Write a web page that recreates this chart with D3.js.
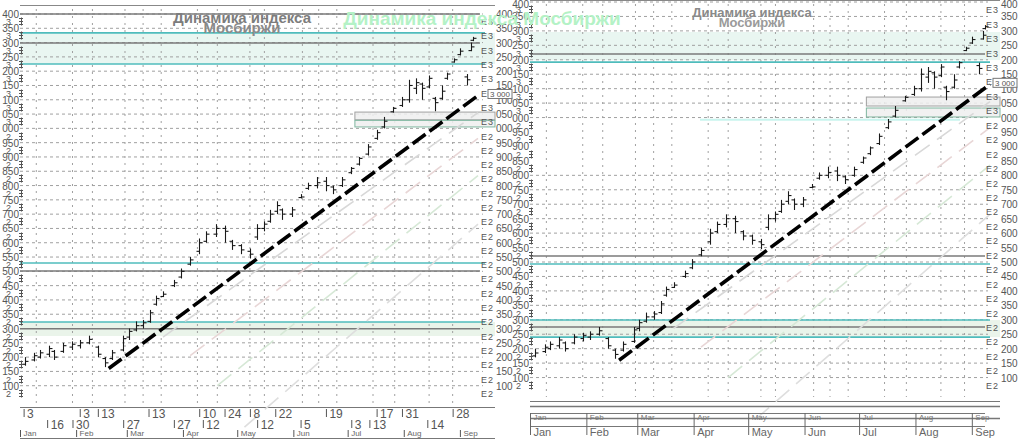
<!DOCTYPE html>
<html>
<head>
<meta charset="utf-8">
<script src="https://cdn.jsdelivr.net/npm/d3@7"></script>
<style>
  body { margin: 0; background: #fff; overflow: hidden; }
  svg { display: block; font-family: "Liberation Sans", Arial, sans-serif; }
</style>
</head>
<body>
<svg id="chart" width="1024" height="441"></svg>
<script>
// IMOEX, 2023 — bars (date, open, high, low, close)
const dates = ['2023-01-04','2023-01-09','2023-01-12','2023-01-17','2023-01-20','2023-01-25','2023-01-30','2023-02-03','2023-02-08','2023-02-13',
  '2023-02-17','2023-02-21','2023-02-27','2023-03-02','2023-03-06','2023-03-10','2023-03-14','2023-03-17','2023-03-21','2023-03-27',
  '2023-03-31','2023-04-05','2023-04-10','2023-04-14','2023-04-19','2023-04-24','2023-04-28','2023-05-03','2023-05-08','2023-05-12',
  '2023-05-16','2023-05-19','2023-05-23','2023-05-26','2023-05-31','2023-06-05','2023-06-09','2023-06-14','2023-06-19','2023-06-23',
  '2023-06-28','2023-07-03','2023-07-07','2023-07-12','2023-07-17','2023-07-21','2023-07-26','2023-07-31','2023-08-04','2023-08-08',
  '2023-08-11','2023-08-15','2023-08-18','2023-08-22','2023-08-25','2023-08-29','2023-09-01','2023-09-05','2023-09-07','2023-09-08'];
const opens = [2175,2190,2200,2210,2220,2220,2235,2240,2250,2235, 2195,2195,2225,2270,2295,2310,2325,2385,2412,2450,
  2480,2525,2570,2605,2630,2650,2605,2590,2570,2620, 2650,2675,2710,2715,2700,2758,2790,2800,2815,2795,
  2800,2845,2875,2910,2965,3005,3058,3080,3100,3140, 3155,3145,3105,3105,3175,3232,3258,3180,3272,3308];
const highs = [2200,2215,2225,2240,2225,2250,2255,2260,2275,2240, 2200,2225,2275,2300,2325,2330,2365,2415,2430,2470,
  2510,2550,2615,2640,2665,2660,2610,2595,2580,2665, 2675,2715,2745,2720,2725,2770,2810,2830,2830,2800,
  2830,2865,2900,2945,2995,3040,3075,3110,3170,3175, 3160,3185,3110,3150,3195,3245,3280,3190,3300,3320];
const lows = [2170,2185,2195,2200,2190,2215,2225,2230,2245,2200, 2165,2190,2220,2260,2290,2300,2320,2380,2410,2445,
  2475,2520,2560,2600,2620,2600,2575,2560,2545,2610, 2640,2670,2700,2680,2690,2755,2785,2790,2780,2770,
  2795,2840,2870,2905,2960,3000,3055,3075,3090,3120, 3100,3140,3060,3100,3170,3230,3255,3150,3270,3305];
const closes = [2185,2205,2215,2230,2200,2240,2245,2250,2262,2210, 2180,2215,2265,2290,2310,2320,2355,2405,2420,2460,
  2500,2540,2600,2630,2650,2640,2590,2575,2560,2650, 2665,2700,2730,2700,2715,2760,2800,2810,2800,2785,
  2820,2860,2895,2935,2985,3025,3070,3100,3150,3160, 3140,3175,3090,3130,3190,3240,3270,3170,3285,3315];

// trend line (two anchor points) and faint parallel channels below it
const trendDates = ['2023-02-19', '2023-09-11'];
const trendValues = [2160, 3115];
const channelOffsets = [-60, -150, -280, -450];
const channelColors = ['#d8d8d8', '#e8d6d6', '#d6e8d6', '#dedede'];

// support / resistance levels
const bandsLeft = [[3225, 3334], [2274, 2323]];
const cyanLeft = [3334, 3225, 2529, 2323];
const grayLeft = [3400, 3299, 2501, 2299];
const boxesLeft = [[3030, 3057], [3005, 3028]];
const bandsRight = [[3199, 3296], [2240, 2299]];
const cyanRight = [3192, 2493, 2299, 2240];
const grayRight = [3220, 2521, 2275];
const boxesRight = [[3040, 3071], [3002, 3033]];
const faintRight = [2992];

// axis ticks
const yTicks = d3.range(2100, 3401, 50);
const gridSkipRight = [2850, 2900, 2950];
const gridDates = ['2023-01-10','2023-01-30','2023-02-10','2023-02-28','2023-03-10','2023-03-20','2023-04-09','2023-04-20',
  '2023-05-08','2023-05-16','2023-06-06','2023-06-15','2023-06-25','2023-07-15','2023-07-27','2023-08-15','2023-08-28'];
const dayTicks1 = ['2023-01-03','2023-02-03','2023-02-13','2023-03-13','2023-04-10','2023-04-24','2023-05-08','2023-05-22',
  '2023-06-19','2023-07-17','2023-07-31','2023-08-28'];
const dayTicks2 = ['2023-01-16','2023-01-30','2023-02-27','2023-03-27','2023-04-12','2023-05-12','2023-06-05','2023-07-03',
  '2023-07-13','2023-08-14'];
const monthTicks = ['2023-01-01','2023-02-01','2023-03-01','2023-04-01','2023-05-01','2023-06-01','2023-07-01','2023-08-01','2023-09-01'];
const monthNames = ['Jan','Feb','Mar','Apr','May','Jun','Jul','Aug','Sep'];

const title = 'Динамика индекса Мосбиржи';

const parse = d3.timeParse('%Y-%m-%d');
const bars = dates.map((d, i) => ({ date: parse(d), o: opens[i], h: highs[i], l: lows[i], c: closes[i] }));
const svg = d3.select('#chart');

const panels = [
  { x0: 20, x1: 478, fl: 20, fr: 495, yTop: 14, yBot: 400, top: 5, bottom: 407,
    bands: bandsLeft, cyan: cyanLeft, gray: grayLeft, boxes: boxesLeft, boxFrom: '2023-07-05', faint: [], skip: [], side: 'left' },
  { x0: 530, x1: 990, fl: 530, fr: 1000, yTop: 2, yBot: 392, top: 0, bottom: 401,
    bands: bandsRight, cyan: cyanRight, gray: grayRight, boxes: boxesRight, boxFrom: '2023-07-05', faint: faintRight, skip: gridSkipRight, side: 'right' }
];

function drawPanel(p) {
  const g = svg.append('g');
  const x = d3.scaleTime().domain([new Date(2023, 0, 1), new Date(2023, 8, 11)]).range([p.x0, p.x1]);
  const y = d3.scaleLinear().domain([2050, 3400]).range([p.yBot, p.yTop]);

  // shaded bands
  g.selectAll('.band').data(p.bands).join('rect')
    .attr('x', p.fl).attr('width', p.fr - p.fl)
    .attr('y', d => y(d[1])).attr('height', d => y(d[0]) - y(d[1]))
    .attr('fill', (d, i) => i === 0 ? '#e9f6f1' : '#eaf4ea');

  // horizontal dotted grid
  g.selectAll('.hg').data(yTicks.filter(v => !p.skip.includes(v))).join('line')
    .attr('x1', p.fl).attr('x2', p.fr - 12)
    .attr('y1', d => y(d)).attr('y2', d => y(d))
    .attr('stroke', '#a0a0a0').attr('stroke-dasharray', '3,3');

  // vertical dotted grid
  g.selectAll('.vg').data(gridDates.map(parse)).join('line')
    .attr('x1', d => x(d)).attr('x2', d => x(d))
    .attr('y1', p.top + 4).attr('y2', p.bottom - 4)
    .attr('stroke', '#a0a0a0').attr('stroke-dasharray', '2,5');

  // boxes near the right edge
  g.selectAll('.box').data(p.boxes).join('rect')
    .attr('x', x(parse(p.boxFrom))).attr('width', p.fr - x(parse(p.boxFrom)))
    .attr('y', d => y(d[1])).attr('height', d => y(d[0]) - y(d[1]))
    .attr('fill', '#eeeeee').attr('fill-opacity', 0.85)
    .attr('stroke', (d, i) => i === 0 ? '#a0a0a0' : '#7fb7a0');

  // level lines
  g.selectAll('.faint').data(p.faint).join('line')
    .attr('x1', p.fl + 170).attr('x2', p.fr - 40)
    .attr('y1', d => y(d)).attr('y2', d => y(d))
    .attr('stroke', '#c8f4ee').attr('stroke-width', 2);
  g.selectAll('.gray').data(p.gray).join('line')
    .attr('x1', p.fl).attr('x2', p.fr - 15)
    .attr('y1', d => y(d)).attr('y2', d => y(d))
    .attr('stroke', '#7a7a7a').attr('stroke-width', 1.5);
  g.selectAll('.cyan').data(p.cyan).join('line')
    .attr('x1', p.fl).attr('x2', p.fr - 10)
    .attr('y1', d => y(d)).attr('y2', d => y(d))
    .attr('stroke', '#4fbcbc').attr('stroke-width', 1.6);

  // frame top / bottom
  g.append('line').attr('x1', p.fl).attr('x2', p.fr).attr('y1', p.top + 0.5).attr('y2', p.top + 0.5).attr('stroke', '#888');
  g.append('line').attr('x1', p.fl).attr('x2', p.fr).attr('y1', p.bottom + 0.5).attr('y2', p.bottom + 0.5).attr('stroke', '#777');

  // faint channels
  const tDates = trendDates.map(parse);
  const line = d3.line().x(d => x(d[0])).y(d => y(d[1]));
  channelOffsets.forEach((off, i) => {
    g.append('path')
      .attr('d', line([[d3.timeDay.offset(tDates[0], 30 + i * 15), trendValues[0] + off + 170 + i * 25], [tDates[1], trendValues[1] + off]]))
      .attr('fill', 'none').attr('stroke', channelColors[i]).attr('stroke-width', 1.6)
      .attr('stroke-dasharray', '18,9');
  });

  // OHLC bars
  const bg = g.append('g').attr('stroke', '#1a1a1a').attr('stroke-width', 1.1);
  bars.forEach(b => {
    const cx = Math.round(x(b.date)) + 0.5;
    bg.append('line').attr('x1', cx).attr('x2', cx).attr('y1', y(b.h)).attr('y2', y(b.l));
    bg.append('line').attr('x1', cx - 3).attr('x2', cx).attr('y1', y(b.o)).attr('y2', y(b.o));
    bg.append('line').attr('x1', cx).attr('x2', cx + 3).attr('y1', y(b.c)).attr('y2', y(b.c));
  });

  // trend line
  g.append('path')
    .attr('d', line(tDates.map((d, i) => [d, trendValues[i]])))
    .attr('fill', 'none').attr('stroke', '#000').attr('stroke-width', 3.6)
    .attr('stroke-dasharray', '16,5');

  // y labels
  const ly = g.append('g').attr('fill', '#555').attr('font-size', 10);
  const yy = v => Math.max(y(v) + 4, 8);
  yTicks.forEach(v => {
    ly.append('text').attr('x', p.fl - 1).attr('y', yy(v)).attr('text-anchor', 'end')
      .text(String(v % 1000).padStart(3, '0'));
    ly.append('text').attr('x', p.fl - 9).attr('y', yy(v - 25)).attr('text-anchor', 'end').attr('font-size', 9)
      .text(Math.floor((v - 25) / 1000));
    ly.append('text').attr('x', p.fr - 14).attr('y', yy(v - 25)).attr('font-size', 9).text('E');
    ly.append('text').attr('x', p.fr - 7).attr('y', yy(v - 25)).attr('font-size', 9).text(Math.floor((v - 25) / 1000));
    ly.append('text').attr('x', p.fr + 1).attr('y', yy(v)).text(String(v % 1000).padStart(3, '0'));
  });
  // comb ticks at left edge
  const comb = g.append('g').attr('stroke', '#555');
  yTicks.forEach(v => {
    const cy = Math.round(y(v - 25)) + 0.5;
    comb.append('line').attr('x1', p.fl + 1.5).attr('x2', p.fl + 1.5).attr('y1', cy - 4).attr('y2', cy + 4);
    [-3, 0, 3].forEach(o => comb.append('line').attr('x1', p.fl - 1).attr('x2', p.fl + 3).attr('y1', cy + o).attr('y2', cy + o));
  });

  // price tag at trend end
  const tagY = y(trendValues[1]) - 6;
  g.append('rect').attr('x', p.fr - 7).attr('y', tagY).attr('width', 24).attr('height', 9)
    .attr('fill', '#fff').attr('stroke', '#777');
  g.append('text').attr('x', p.fr - 5).attr('y', tagY + 8).attr('font-size', 8).attr('fill', '#555').text('3 000');

  // x axis
  if (p.side === 'left') {
    const row = (ticks, ty, fmt) => {
      const a = g.append('g').attr('transform', `translate(0,${ty})`)
        .call(d3.axisBottom(x).tickValues(ticks.map(parse)).tickSize(8).tickFormat(fmt));
      a.select('.domain').remove();
      a.selectAll('line').attr('stroke', '#555');
      a.selectAll('text').attr('text-anchor', 'start').attr('x', 3).attr('y', 0).attr('dy', '0.75em')
        .attr('font-size', 12).attr('fill', '#555').attr('font-family', 'Liberation Sans, Arial, sans-serif');
    };
    row(dayTicks1, 409, d3.timeFormat('%-d'));
    row(dayTicks2, 420, d3.timeFormat('%-d'));
    const m = g.append('g').attr('transform', 'translate(0,430)')
      .call(d3.axisBottom(x).tickValues(monthTicks.map(parse)).tickSize(7).tickFormat((d, i) => monthNames[i]));
    m.select('.domain').remove();
    m.selectAll('line').attr('stroke', '#555');
    m.selectAll('text').attr('text-anchor', 'start').attr('x', 3).attr('y', 0).attr('dy', '0.7em')
      .attr('font-size', 8).attr('fill', '#666').attr('font-family', 'Liberation Sans, Arial, sans-serif');
    g.append('line').attr('x1', p.fl).attr('x2', p.fr).attr('y1', 438.5).attr('y2', 438.5).attr('stroke', '#777');
  } else {
    [406, 413, 418, 426].forEach((ly2, i) => g.append('line')
      .attr('x1', p.fl).attr('x2', i % 2 ? p.fr - 15 : p.fr).attr('y1', ly2 + 0.5).attr('y2', ly2 + 0.5)
      .attr('stroke', '#777').attr('stroke-width', i % 2 ? 1 : 1.5));
    const a = g.append('g').attr('transform', 'translate(0,413)')
      .call(d3.axisBottom(x).tickValues(monthTicks.map(parse)).tickSize(13).tickFormat((d, i) => monthNames[i]));
    a.select('.domain').remove();
    a.selectAll('line').attr('stroke', '#666');
    a.selectAll('text').attr('text-anchor', 'start').attr('x', 3).attr('y', 1).attr('dy', '0.75em')
      .attr('font-size', 8).attr('fill', '#777').attr('font-family', 'Liberation Sans, Arial, sans-serif');
    const b = g.append('g').attr('transform', 'translate(0,426)')
      .call(d3.axisBottom(x).tickValues(monthTicks.map(parse)).tickSize(9).tickFormat((d, i) => monthNames[i]));
    b.select('.domain').remove();
    b.selectAll('line').attr('stroke', '#666');
    b.selectAll('text').attr('text-anchor', 'start').attr('x', 3).attr('y', 2).attr('dy', '0.75em')
      .attr('font-size', 11).attr('fill', '#666').attr('font-family', 'Liberation Sans, Arial, sans-serif');
  }
}

panels.forEach(drawPanel);

// titles
const words = title.split(' ');
svg.append('text').attr('x', 242).attr('y', 23).attr('text-anchor', 'middle')
  .attr('font-size', 15).attr('font-weight', 'bold').attr('fill', '#7d7d7d').text(words.slice(0, 2).join(' '));
svg.append('text').attr('x', 242).attr('y', 33).attr('text-anchor', 'middle')
  .attr('font-size', 15).attr('font-weight', 'bold').attr('fill', '#8a8a8a').text(words[2]);
svg.append('text').attr('x', 752).attr('y', 17).attr('text-anchor', 'middle')
  .attr('font-size', 13).attr('font-weight', 'bold').attr('fill', '#8a8a8a').text(words.slice(0, 2).join(' '));
svg.append('text').attr('x', 752).attr('y', 27).attr('text-anchor', 'middle')
  .attr('font-size', 13).attr('font-weight', 'bold').attr('fill', '#9a9a9a').text(words[2]);
svg.append('text').attr('x', 482).attr('y', 25).attr('text-anchor', 'middle')
  .attr('font-size', 19).attr('font-weight', 'bold').attr('fill', '#b4f2c6').text(title);
</script>
</body>
</html>
